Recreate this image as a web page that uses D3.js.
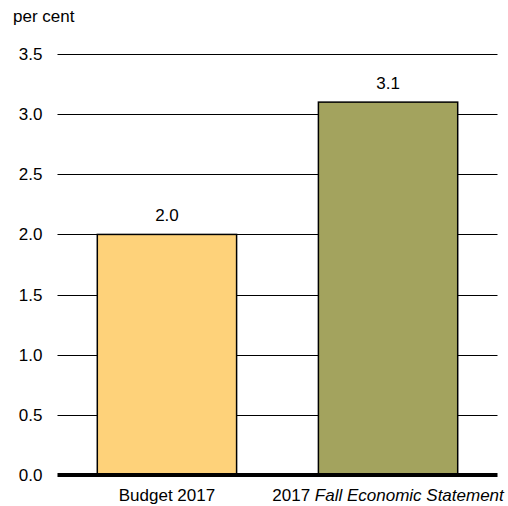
<!DOCTYPE html>
<html>
<head>
<meta charset="utf-8">
<script src="https://cdn.jsdelivr.net/npm/d3@7"></script>
<style>
  html, body { margin: 0; padding: 0; background: #fff; }
  svg { display: block; font-family: "Liberation Sans", Arial, sans-serif; }
</style>
</head>
<body>
<svg id="chart" width="508" height="506"></svg>
<script>
const categories = ["Budget 2017", "2017 Fall Economic Statement"];
const values = [2.0, 3.1];
const valueLabels = ["2.0", "3.1"];
const barColors = ["#FED27A", "#A3A35E"];
const yTicks = [0, 0.5, 1.0, 1.5, 2.0, 2.5, 3.0, 3.5];
const unitLabel = "per cent";

(function () {
const svg = d3.select("#chart");
const plotLeft = 57.5, plotRight = 497.5, plotTop = 54, plotBottom = 475;
const fontSize = 17;

const x = d3.scaleBand().domain(categories).range([plotLeft, plotRight])
  .paddingInner(0.37).paddingOuter(0.18);
const y = d3.scaleLinear().domain([0, 3.5]).range([plotBottom, plotTop]);

// gridlines
svg.append("g").selectAll("line").data(yTicks.filter(d => d > 0)).join("line")
  .attr("x1", plotLeft).attr("x2", plotRight)
  .attr("y1", d => Math.round(y(d)) + 0.5).attr("y2", d => Math.round(y(d)) + 0.5)
  .attr("stroke", "#000").attr("stroke-width", 1);

// y tick labels
svg.append("g").selectAll("text").data(yTicks).join("text")
  .attr("x", 42.5).attr("y", d => y(d)).attr("dy", "0.35em")
  .attr("text-anchor", "end").attr("font-size", fontSize).attr("fill", "#000")
  .text(d => d3.format(".1f")(d));

// bars
svg.append("g").selectAll("rect").data(categories).join("rect")
  .attr("x", d => x(d)).attr("width", x.bandwidth())
  .attr("y", (d, i) => y(values[i])).attr("height", (d, i) => plotBottom - y(values[i]))
  .attr("fill", (d, i) => barColors[i])
  .attr("stroke", "#000").attr("stroke-width", 1.5);

// value labels
svg.append("g").selectAll("text").data(categories).join("text")
  .attr("x", d => x(d) + x.bandwidth() / 2).attr("y", (d, i) => y(values[i]) - 13)
  .attr("text-anchor", "middle").attr("font-size", fontSize).attr("fill", "#000")
  .text((d, i) => valueLabels[i]);

// baseline
svg.append("line").attr("x1", plotLeft).attr("x2", plotRight)
  .attr("y1", y(0)).attr("y2", y(0))
  .attr("stroke", "#000").attr("stroke-width", 4);

// category labels
const cat = svg.append("g").selectAll("text").data(categories).join("text")
  .attr("x", d => x(d) + x.bandwidth() / 2).attr("y", 501)
  .attr("text-anchor", "middle").attr("font-size", fontSize).attr("fill", "#000");
cat.each(function (d) {
  const t = d3.select(this);
  const m = d.match(/^(\d{4}) (.+)$/);
  if (m) {
    t.append("tspan").text(m[1] + " ");
    t.append("tspan").attr("font-style", "italic").text(m[2]);
  } else {
    t.text(d);
  }
});

// unit label
svg.append("text").attr("x", 13).attr("y", 21.5)
  .attr("font-size", fontSize).attr("fill", "#000").text(unitLabel);
})();
</script>
</body>
</html>
